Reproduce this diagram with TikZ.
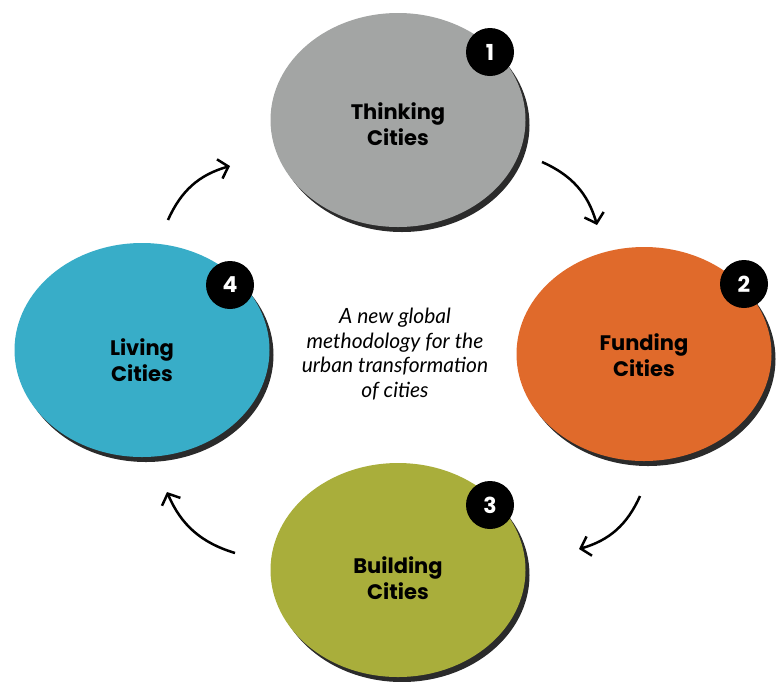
\documentclass[tikz,border=0pt]{standalone}
\usepackage{fontspec}
\setmainfont{Poppins}
\newfontfamily\notefont{Lato}
\usetikzlibrary{arrows.meta,shapes.geometric}

\definecolor{thinkgray}{HTML}{A3A5A4}
\definecolor{fundorange}{HTML}{E06A2B}
\definecolor{buildolive}{HTML}{A9AE3B}
\definecolor{liveblue}{HTML}{38ADC8}
\definecolor{shadowgray}{HTML}{2B2B2B}

\begin{document}
\begin{tikzpicture}[
  x=1pt, y=-1pt,
  cnode/.style={ellipse,minimum width=255pt,minimum height=214pt,inner sep=0pt,
    preaction={fill=shadowgray,transform canvas={xshift=4pt,yshift=-5pt}}},
  stagetext/.style={align=center,font=\bfseries\fontsize{21}{26}\selectfont},
  bnode/.style={circle,fill=black,minimum size=48pt,inner sep=0pt,
    text=white,font=\bfseries\fontsize{22}{22}\selectfont},
  cycle/.style={line width=2.5pt,-{Straight Barb[length=9pt,width=20pt,line width=2.5pt]},bend left=25}
]
  \useasboundingbox (0,0) rectangle (776,681);

  % stages
  \node[cnode,fill=thinkgray,label={[stagetext,yshift=-4pt]center:Thinking\\Cities}] (thinking) at (398,120) {};
  \node[cnode,fill=fundorange,label={[stagetext,yshift=-1pt]center:Funding\\Cities}] (funding) at (644,354) {};
  \node[cnode,fill=buildolive,label={[stagetext,yshift=-8pt]center:Building\\Cities}] (building) at (398,570) {};
  \node[cnode,fill=liveblue,label={[stagetext,yshift=-10pt]center:Living\\Cities}] (living) at (142,350) {};

  % numbers
  \node[bnode] (n1) at (490,52) {1};
  \node[bnode] (n2) at (744,284) {2};
  \node[bnode] (n3) at (490,505) {3};
  \node[bnode] (n4) at (230,285) {4};

  % centre
  \node[align=center,font=\notefont\itshape\fontsize{21}{24.5}\selectfont] (note) at (395,354)
    {A new global\\methodology for the\\urban transformation\\of cities};

  % cycle ends
  \coordinate (a1s) at (168,220); \coordinate (a1e) at (230,166);
  \coordinate (a2s) at (542,162); \coordinate (a2e) at (597,225);
  \coordinate (a3s) at (640,496); \coordinate (a3e) at (579,549);
  \coordinate (a4s) at (235,553); \coordinate (a4e) at (167,492);

  % cycle
  \draw[cycle] (a1s) to (a1e);
  \draw[cycle] (a2s) to (a2e);
  \draw[cycle] (a3s) to (a3e);
  \draw[cycle] (a4s) to (a4e);

\end{tikzpicture}
\end{document}
